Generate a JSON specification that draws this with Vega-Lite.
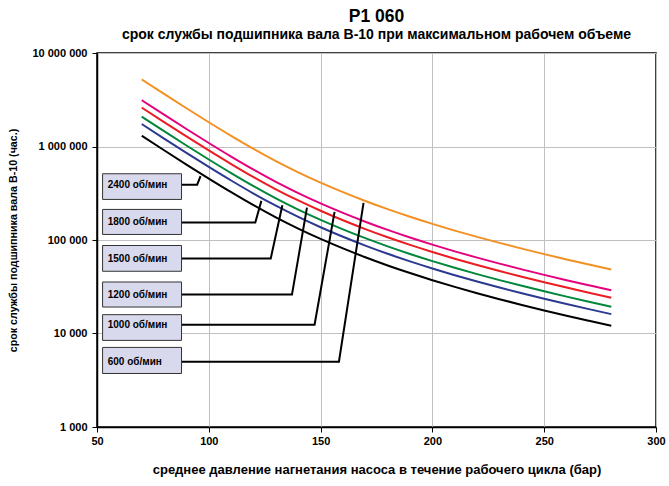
{
  "$schema": "https://vega.github.io/schema/vega-lite/v6.json",
  "width": 559,
  "height": 374,
  "autosize": {"type": "none"},
  "padding": {"left": 97, "top": 53, "right": 13, "bottom": 59},
  "background": "white",
  "title": {
    "text": "P1 060",
    "subtitle": "срок службы подшипника вала В-10 при максимальном рабочем объеме",
    "font": "Liberation Sans",
    "fontSize": 17.5,
    "fontWeight": "bold",
    "color": "black",
    "subtitleFont": "Liberation Sans",
    "subtitleFontSize": 14,
    "subtitleFontWeight": "bold",
    "subtitleColor": "black",
    "subtitlePadding": 3,
    "anchor": "middle",
    "offset": 5
  },
  "config": {
    "view": {"stroke": "black", "strokeWidth": 1.5},
    "font": "Liberation Sans"
  },
  "datasets": {
    "curves": [
      {"p":70,"n":"600","L":5215000},{"p":70,"n":"1000","L":3129000},{"p":70,"n":"1200","L":2607500},{"p":70,"n":"1500","L":2086000},{"p":70,"n":"1800","L":1738300},{"p":70,"n":"2400","L":1303750},
      {"p":80,"n":"600","L":3649000},{"p":80,"n":"1000","L":2189400},{"p":80,"n":"1200","L":1824500},{"p":80,"n":"1500","L":1459600},{"p":80,"n":"1800","L":1216300},{"p":80,"n":"2400","L":912250},
      {"p":90,"n":"600","L":2564000},{"p":90,"n":"1000","L":1538400},{"p":90,"n":"1200","L":1282000},{"p":90,"n":"1500","L":1025600},{"p":90,"n":"1800","L":854700},{"p":90,"n":"2400","L":641000},
      {"p":100,"n":"600","L":1816000},{"p":100,"n":"1000","L":1089600},{"p":100,"n":"1200","L":908000},{"p":100,"n":"1500","L":726400},{"p":100,"n":"1800","L":605300},{"p":100,"n":"2400","L":454000},
      {"p":110,"n":"600","L":1299000},{"p":110,"n":"1000","L":779400},{"p":110,"n":"1200","L":649500},{"p":110,"n":"1500","L":519600},{"p":110,"n":"1800","L":433000},{"p":110,"n":"2400","L":324750},
      {"p":120,"n":"600","L":942600},{"p":120,"n":"1000","L":565560},{"p":120,"n":"1200","L":471300},{"p":120,"n":"1500","L":377040},{"p":120,"n":"1800","L":314200},{"p":120,"n":"2400","L":235650},
      {"p":130,"n":"600","L":697700},{"p":130,"n":"1000","L":418620},{"p":130,"n":"1200","L":348850},{"p":130,"n":"1500","L":279080},{"p":130,"n":"1800","L":232570},{"p":130,"n":"2400","L":174430},
      {"p":140,"n":"600","L":529400},{"p":140,"n":"1000","L":317640},{"p":140,"n":"1200","L":264700},{"p":140,"n":"1500","L":211760},{"p":140,"n":"1800","L":176470},{"p":140,"n":"2400","L":132350},
      {"p":150,"n":"600","L":410700},{"p":150,"n":"1000","L":246420},{"p":150,"n":"1200","L":205350},{"p":150,"n":"1500","L":164280},{"p":150,"n":"1800","L":136900},{"p":150,"n":"2400","L":102680},
      {"p":160,"n":"600","L":324900},{"p":160,"n":"1000","L":194940},{"p":160,"n":"1200","L":162450},{"p":160,"n":"1500","L":129960},{"p":160,"n":"1800","L":108300},{"p":160,"n":"2400","L":81230},
      {"p":170,"n":"600","L":261600},{"p":170,"n":"1000","L":156960},{"p":170,"n":"1200","L":130800},{"p":170,"n":"1500","L":104640},{"p":170,"n":"1800","L":87200},{"p":170,"n":"2400","L":65400},
      {"p":180,"n":"600","L":213700},{"p":180,"n":"1000","L":128220},{"p":180,"n":"1200","L":106850},{"p":180,"n":"1500","L":85480},{"p":180,"n":"1800","L":71230},{"p":180,"n":"2400","L":53430},
      {"p":190,"n":"600","L":177150},{"p":190,"n":"1000","L":106290},{"p":190,"n":"1200","L":88580},{"p":190,"n":"1500","L":70860},{"p":190,"n":"1800","L":59050},{"p":190,"n":"2400","L":44290},
      {"p":200,"n":"600","L":148700},{"p":200,"n":"1000","L":89220},{"p":200,"n":"1200","L":74350},{"p":200,"n":"1500","L":59480},{"p":200,"n":"1800","L":49570},{"p":200,"n":"2400","L":37180},
      {"p":210,"n":"600","L":126070},{"p":210,"n":"1000","L":75640},{"p":210,"n":"1200","L":63040},{"p":210,"n":"1500","L":50430},{"p":210,"n":"1800","L":42020},{"p":210,"n":"2400","L":31520},
      {"p":220,"n":"600","L":107940},{"p":220,"n":"1000","L":64760},{"p":220,"n":"1200","L":53970},{"p":220,"n":"1500","L":43180},{"p":220,"n":"1800","L":35980},{"p":220,"n":"2400","L":26990},
      {"p":230,"n":"600","L":93120},{"p":230,"n":"1000","L":55870},{"p":230,"n":"1200","L":46560},{"p":230,"n":"1500","L":37250},{"p":230,"n":"1800","L":31040},{"p":230,"n":"2400","L":23280},
      {"p":240,"n":"600","L":80890},{"p":240,"n":"1000","L":48530},{"p":240,"n":"1200","L":40450},{"p":240,"n":"1500","L":32360},{"p":240,"n":"1800","L":26960},{"p":240,"n":"2400","L":20220},
      {"p":250,"n":"600","L":70630},{"p":250,"n":"1000","L":42380},{"p":250,"n":"1200","L":35320},{"p":250,"n":"1500","L":28250},{"p":250,"n":"1800","L":23540},{"p":250,"n":"2400","L":17660},
      {"p":260,"n":"600","L":61990},{"p":260,"n":"1000","L":37190},{"p":260,"n":"1200","L":31000},{"p":260,"n":"1500","L":24800},{"p":260,"n":"1800","L":20660},{"p":260,"n":"2400","L":15500},
      {"p":270,"n":"600","L":54660},{"p":270,"n":"1000","L":32800},{"p":270,"n":"1200","L":27330},{"p":270,"n":"1500","L":21860},{"p":270,"n":"1800","L":18220},{"p":270,"n":"2400","L":13670},
      {"p":280,"n":"600","L":48320},{"p":280,"n":"1000","L":28990},{"p":280,"n":"1200","L":24160},{"p":280,"n":"1500","L":19330},{"p":280,"n":"1800","L":16110},{"p":280,"n":"2400","L":12080}
    ],
    "leaders": [
      {"n":"2400","i":0,"p":87.8,"L":390000},{"n":"2400","i":1,"p":94.8,"L":390000},{"n":"2400","i":2,"p":96.3,"L":483000},
      {"n":"1800","i":0,"p":87.8,"L":154100},{"n":"1800","i":1,"p":120.8,"L":154100},{"n":"1800","i":2,"p":123.5,"L":262000},
      {"n":"1500","i":0,"p":87.8,"L":63400},{"n":"1500","i":1,"p":127.7,"L":63400},{"n":"1500","i":2,"p":132.9,"L":235000},
      {"n":"1200","i":0,"p":87.8,"L":26060},{"n":"1200","i":1,"p":137.2,"L":26060},{"n":"1200","i":2,"p":143.9,"L":222000},
      {"n":"1000","i":0,"p":87.8,"L":12410},{"n":"1000","i":1,"p":147.3,"L":12410},{"n":"1000","i":2,"p":156.25,"L":200000},
      {"n":"600","i":0,"p":87.8,"L":4990},{"n":"600","i":1,"p":158.2,"L":4990},{"n":"600","i":2,"p":169.2,"L":250000}
    ],
    "boxes": [
      {"label":"2400 об/мин","p":52.5,"p2":87.8,"L":511000,"L2":271600,"Lc":390000,"pt":54.8},
      {"label":"1800 об/мин","p":52.5,"p2":87.8,"L":212300,"L2":114600,"Lc":154100,"pt":54.8},
      {"label":"1500 об/мин","p":52.5,"p2":87.8,"L":87300,"L2":46300,"Lc":63400,"pt":54.8},
      {"label":"1200 об/мин","p":52.5,"p2":87.8,"L":35560,"L2":19190,"Lc":26060,"pt":54.8},
      {"label":"1000 об/мин","p":52.5,"p2":87.8,"L":15900,"L2":8440,"Lc":12410,"pt":54.8},
      {"label":"600 об/мин","p":52.5,"p2":87.8,"L":7100,"L2":3735,"Lc":4990,"pt":54.8}
    ]
  },
  "layer": [
    {
      "data": {"name": "curves"},
      "mark": {"type": "line", "strokeWidth": 2, "interpolate": "monotone", "clip": true},
      "encoding": {
        "x": {
          "field": "p", "type": "quantitative",
          "scale": {"domain": [50, 300], "nice": false, "zero": false},
          "axis": {
            "title": "среднее давление нагнетания насоса в течение рабочего цикла (бар)",
            "values": [50, 100, 150, 200, 250, 300],
            "grid": true, "gridColor": "#c0c0c0", "gridWidth": 1,
            "domainColor": "black", "domainWidth": 1.5,
            "tickColor": "black", "tickSize": 5,
            "labelFont": "Liberation Sans", "labelFontSize": 11, "labelFontWeight": "bold", "labelColor": "black",
            "labelPadding": 3, "labelFlush": false,
            "titleFont": "Liberation Sans", "titleFontSize": 13, "titleFontWeight": "bold", "titleColor": "black",
            "titlePadding": 17
          }
        },
        "y": {
          "field": "L", "type": "quantitative",
          "scale": {"type": "log", "domain": [1000, 10000000], "nice": false},
          "axis": {
            "title": "срок службы подшипника вала В-10  (час.)",
            "values": [1000, 10000, 100000, 1000000, 10000000],
            "labelExpr": "replace(format(datum.value, ','), /,/g, ' ')",
            "grid": true, "gridColor": "#c0c0c0", "gridWidth": 1,
            "domainColor": "black", "domainWidth": 1.5,
            "tickColor": "black", "tickSize": 5,
            "labelFont": "Liberation Sans", "labelFontSize": 11, "labelFontWeight": "bold", "labelColor": "black",
            "labelPadding": 5, "labelFlush": false,
            "titleFont": "Liberation Sans", "titleFontSize": 10.7, "titleFontWeight": "bold", "titleColor": "black",
            "titlePadding": 13
          }
        },
        "color": {
          "field": "n", "type": "nominal",
          "scale": {"domain": ["600", "1000", "1200", "1500", "1800", "2400"],
                    "range": ["#f39022", "#e5007d", "#ec1c24", "#00873c", "#2b3990", "#000000"]},
          "legend": null
        }
      }
    },
    {
      "data": {"name": "leaders"},
      "mark": {"type": "line", "color": "black", "strokeWidth": 2},
      "encoding": {
        "x": {"field": "p", "type": "quantitative"},
        "y": {"field": "L", "type": "quantitative"},
        "detail": {"field": "n", "type": "nominal"},
        "order": {"field": "i", "type": "quantitative"}
      }
    },
    {
      "data": {"name": "boxes"},
      "mark": {"type": "rect", "fill": "#d9d9ee", "stroke": "#333333", "strokeWidth": 1},
      "encoding": {
        "x": {"field": "p", "type": "quantitative"},
        "x2": {"field": "p2"},
        "y": {"field": "L", "type": "quantitative"},
        "y2": {"field": "L2"}
      }
    },
    {
      "data": {"name": "boxes"},
      "mark": {"type": "text", "align": "left", "baseline": "middle", "font": "Liberation Sans", "fontSize": 10, "fontWeight": "bold", "color": "black"},
      "encoding": {
        "x": {"field": "pt", "type": "quantitative"},
        "y": {"field": "Lc", "type": "quantitative"},
        "text": {"field": "label"}
      }
    }
  ]
}
